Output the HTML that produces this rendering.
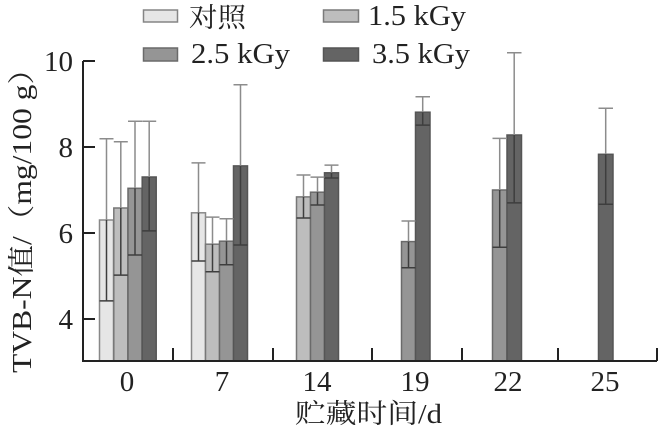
<!DOCTYPE html>
<html><head><meta charset="utf-8"><style>
html,body{margin:0;padding:0;background:#fff;}
svg{display:block;}
text{font-family:"Liberation Serif","Noto Serif CJK SC","Noto Sans CJK SC",serif;fill:#222;}
</style></head><body>
<svg width="660" height="432" viewBox="0 0 660 432" xmlns="http://www.w3.org/2000/svg">
<rect width="660" height="432" fill="#fff"/>
<!-- legend -->
<rect x="143.5" y="10" width="34" height="12" fill="#e6e6e6" stroke="#858585" stroke-width="1.5"/>
<text x="189" y="27" font-size="27" textLength="57" lengthAdjust="spacingAndGlyphs">对照</text>
<rect x="323.5" y="10" width="35" height="12" fill="#bdbdbd" stroke="#7a7a7a" stroke-width="1.5"/>
<text x="368" y="25" font-size="29" textLength="98" lengthAdjust="spacingAndGlyphs">1.5 kGy</text>
<rect x="143.5" y="48" width="34" height="13" fill="#959595" stroke="#6a6a6a" stroke-width="1.5"/>
<text x="191" y="63" font-size="29" textLength="99" lengthAdjust="spacingAndGlyphs">2.5 kGy</text>
<rect x="323.5" y="48" width="35" height="13" fill="#646464" stroke="#555" stroke-width="1.5"/>
<text x="372" y="63" font-size="29" textLength="98" lengthAdjust="spacingAndGlyphs">3.5 kGy</text>

<!-- bars -->
<g stroke-width="1.5">
<rect x="99.5" y="220" width="14" height="141" fill="#e6e6e6" stroke="#888"/>
<rect x="113.8" y="208" width="14" height="153" fill="#bdbdbd" stroke="#777"/>
<rect x="128" y="188.3" width="14" height="172.7" fill="#959595" stroke="#6a6a6a"/>
<rect x="142.2" y="177" width="14" height="184" fill="#646464" stroke="#555"/>
<rect x="191.5" y="212.8" width="14" height="148.2" fill="#e6e6e6" stroke="#888"/>
<rect x="205.5" y="244.2" width="14" height="116.8" fill="#bdbdbd" stroke="#777"/>
<rect x="219.5" y="241.2" width="14" height="119.8" fill="#959595" stroke="#6a6a6a"/>
<rect x="233.5" y="165.9" width="14" height="195.1" fill="#646464" stroke="#555"/>
<rect x="296.5" y="196.9" width="14" height="164.1" fill="#bdbdbd" stroke="#777"/>
<rect x="310.5" y="192.2" width="14" height="168.8" fill="#959595" stroke="#6a6a6a"/>
<rect x="324.5" y="172.8" width="14" height="188.2" fill="#646464" stroke="#555"/>
<rect x="401.5" y="241.6" width="14" height="119.4" fill="#959595" stroke="#6a6a6a"/>
<rect x="415.5" y="112.2" width="14.5" height="248.8" fill="#646464" stroke="#555"/>
<rect x="492.5" y="190" width="14.5" height="171" fill="#959595" stroke="#6a6a6a"/>
<rect x="507" y="135" width="14.5" height="226" fill="#646464" stroke="#555"/>
<rect x="598.5" y="154.3" width="14.5" height="206.7" fill="#646464" stroke="#555"/>
</g>

<!-- error bars -->
<g stroke-width="1.5" fill="none">
<g stroke="#8c8c8c">
<path d="M106.5 138.8V220 M99.5 138.8H113.5"/>
<path d="M120.8 141.8V208 M113.8 141.8H127.8"/>
<path d="M135 121.2V188.3 M128 121.2H142"/>
<path d="M149.2 121.2V177 M142.2 121.2H156.2"/>
<path d="M198.5 162.9V212.8 M191.5 162.9H205.5"/>
<path d="M212.5 217.1V244.2 M205.5 217.1H219.5"/>
<path d="M226.5 218.8V241.2 M219.5 218.8H233.5"/>
<path d="M240.5 84.7V165.9 M233.5 84.7H247.5"/>
<path d="M303.5 175V196.9 M296.5 175H310.5"/>
<path d="M317.5 177.1V192.2 M310.5 177.1H324.5"/>
<path d="M331.5 165.1V172.8 M324.5 165.1H338.5"/>
<path d="M408.5 221V241.6 M401.5 221H415.5"/>
<path d="M422.7 96.7V112.2 M415.5 96.7H430"/>
<path d="M499.7 138.4V190 M492.5 138.4H507"/>
<path d="M514.2 52.8V135 M507 52.8H521.5"/>
<path d="M605.7 108.3V154.3 M598.5 108.3H613"/>
</g>
<g stroke="#3e3e3e">
<path d="M106.5 220V300.9 M99.5 300.9H113.5"/>
<path d="M120.8 208V275.1 M113.8 275.1H127.8"/>
<path d="M135 188.3V255 M128 255H142"/>
<path d="M149.2 177V230.9 M142.2 230.9H156.2"/>
<path d="M198.5 212.8V261 M191.5 261H205.5"/>
<path d="M212.5 244.2V271.7 M205.5 271.7H219.5"/>
<path d="M226.5 241.2V264.8 M219.5 264.8H233.5"/>
<path d="M240.5 165.9V245 M233.5 245H247.5"/>
<path d="M303.5 196.9V218 M296.5 218H310.5"/>
<path d="M317.5 192.2V205 M310.5 205H324.5"/>
<path d="M331.5 172.8V178 M324.5 178H338.5"/>
<path d="M408.5 241.6V267.8 M401.5 267.8H415.5"/>
<path d="M422.7 112.2V125.1 M415.5 125.1H430"/>
<path d="M499.7 190V247.2 M492.5 247.2H507"/>
<path d="M514.2 135V202.9 M507 202.9H521.5"/>
<path d="M605.7 154.3V204.2 M598.5 204.2H613"/>
</g>
</g>

<!-- axes -->
<g stroke="#222" stroke-width="2" fill="none">
<path d="M83 61V361H657"/>
<path d="M83 61H95 M83 147H95 M83 233H95 M83 319H95"/>
<path d="M173 361V348 M273 361V348 M372 361V348 M462 361V348 M558 361V348 M657 361V348"/>
</g>

<g font-size="29" text-anchor="end">
<text x="73" y="71">10</text>
<text x="73" y="157">8</text>
<text x="73" y="243">6</text>
<text x="73" y="329">4</text>
</g>
<g font-size="29" text-anchor="middle">
<text x="127" y="391">0</text>
<text x="222" y="391">7</text>
<text x="317" y="391">14</text>
<text x="415" y="391">19</text>
<text x="508" y="391">22</text>
<text x="605" y="391">25</text>
</g>
<text x="295" y="423" font-size="27" textLength="147" lengthAdjust="spacingAndGlyphs">贮藏时间/d</text>
<text transform="translate(31 373) rotate(-90)" font-size="27" textLength="320" lengthAdjust="spacingAndGlyphs">TVB-N值/（mg/100 g）</text>
</svg>
</body></html>
